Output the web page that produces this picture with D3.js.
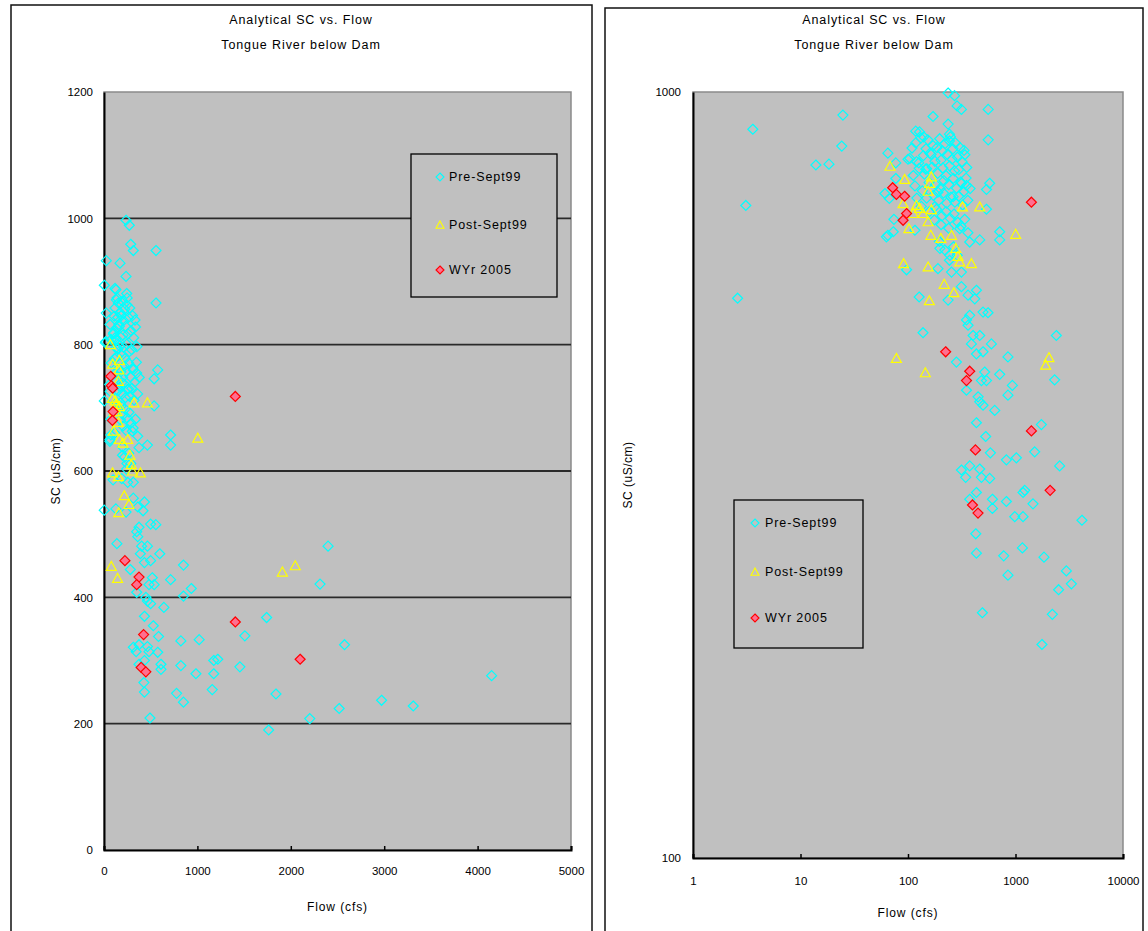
<!DOCTYPE html>
<html><head><meta charset="utf-8">
<script src="https://cdn.jsdelivr.net/npm/d3@7"></script>
<style>
body{margin:0;background:#fff}
text{font-family:"Liberation Sans",Arial,sans-serif;fill:#000}
</style>
</head><body>
<svg id="c" width="1148" height="931"></svg>
<script>
// ---------- data (flow cfs, SC uS/cm) ----------
const seriesNames = ["Pre-Sept99", "Post-Sept99", "WYr 2005"];

const preSept99 = [
  [2.6,538],[3.1,711],[3.6,894],[13.9,803],[18.4,805],[24.2,850],[24.8,933],
  [61,737],[63,647],[65,650],[65,832],[67,726],[73,657],[74,682],[77,771],[77,808],[97,586],
  [100,817],[104,819],[116,660],[116,754],[120,811],[127,540],[128,887],[138,485],[140,874],[146,793],[149,794],[160,832],
  [177,708],[190,588],[190,740],[198,625],[236,535],[245,612],[254,582],[263,730],
  [282,444],[303,663],[314,321],[314,557],[314,582],[337,682],[344,314],[350,408],[350,504],[360,722],[362,496],[362,543],
  [375,294],[375,325],[375,511],[375,637],[389,469],[403,481],[418,537],[427,265],[433,250],[433,300],[433,370],[433,455],[433,551],
  [449,400],[465,322],[465,394],[465,481],[465,641],[482,314],[482,420],[492,209],[499,390],[499,458],[499,516],[517,431],[528,355],
  [537,420],[537,703],[537,746],[555,515],[557,866],[557,949],[575,313],[575,760],[584,338],[597,469],[610,286],[610,294],[641,384],
  [713,428],[713,641],[713,657],[777,248],[823,292],[823,331],[851,234],[851,402],[851,451],[935,414],[984,279],[1019,333],
  [1159,254],[1175,279],[1175,300],[1218,302],[1455,290],[1508,339],[1741,368],[1763,190],[1841,247],[2203,208],[2313,421],
  [2399,481],[2518,224],[2575,325],[2972,237],[3311,228],[4150,276],
  [236,997],[271,989],[286,959],[314,949],[171,929],[236,908],[118,889],[243,881],[243,863],[332,839],
  [314,760],[350,755],[378,748],
  [118,858],[132,871],[147,843],[139,826],[126,808],[153,866],[171,851],[164,829],[186,846],[178,812],[197,869],[209,838],
  [221,856],[203,815],[232,829],[248,874],[262,843],[257,817],[276,858],[289,822],[305,846],[318,811],[296,792],[338,828],
  [352,797],[271,789],[244,801],[226,778],[211,796],[189,783],[168,798],[142,781],[157,762],[181,757],[199,748],[216,766],
  [239,757],[264,771],[283,749],[309,763],[331,741],[347,772],[136,743],[149,727],[172,733],[193,722],[214,738],[229,716],
  [251,729],[273,718],[297,731],[322,712],[184,703],[207,689],[226,698],[247,684],[268,693],[291,676],[312,668],[239,664],
  [203,671],[176,681],[158,698],[133,709],[121,727],[112,778],[127,795],[109,845],[265,628],[287,612],[243,603],[220,622],
  [196,638],[361,655]
];

const postSept99 = [
  [68,800],[93,769],[165,775],[159,760],[154,742],[90,715],[120,711],[128,705],[165,702],[112,694],[138,694],
  [154,677],[102,663],[321,708],[465,708],[163,650],[202,644],[254,650],[278,625],[1004,652],[91,597],[154,591],
  [303,600],[389,597],[292,610],[217,561],[267,547],[158,534],[78,449],[145,430],[2048,450],[1910,440]
];

const wyr2005 = [
  [72,750],[78,735],[93,731],[97,694],[90,680],[1406,718],[224,458],[375,432],[350,420],
  [1406,361],[424,341],[398,289],[448,282],[2100,302]
];

const titleLines = ["Analytical SC vs. Flow", "Tongue River below Dam"];
const xTitle = "Flow (cfs)";
const yTitle = "SC (uS/cm)";
const linXTicks = [0,1000,2000,3000,4000,5000];
const linYTicks = [0,200,400,600,800,1000,1200];
const linGrid = [200,400,600,800,1000];
const logXTicks = [1,10,100,1000,10000];
const logYTicks = [100,1000];

// ---------- drawing ----------
const svg = d3.select("#c");
svg.append("rect").attr("width",1148).attr("height",931).attr("fill","#fff");

const styles = [
  {path:"M0,-5L5,0L0,5L-5,0Z", fill:"none", stroke:"#00FFFF"},
  {path:"M0,-5L5,4L-5,4Z", fill:"none", stroke:"#FFFF00"},
  {path:"M0,-5L5,0L0,5L-5,0Z", fill:"#FF6F8F", stroke:"#FF0000"}
];
const seriesData = [preSept99, postSept99, wyr2005];

function panel(cfg){
  const g = svg.append("g");
  g.append("rect").attr("x",cfg.box[0]).attr("y",cfg.box[1]).attr("width",cfg.box[2]).attr("height",cfg.box[3])
    .attr("fill","#fff").attr("stroke","#111").attr("stroke-width",1.5);
  titleLines.forEach((t,i)=>{
    g.append("text").attr("x",cfg.titleX).attr("y",cfg.titleY + i*25).attr("text-anchor","middle")
      .attr("font-size",12.5).attr("letter-spacing",0.9).text(t);
  });
  const x = cfg.x, y = cfg.y;
  const [x0,x1] = x.range(), [y0,y1] = y.range();
  g.append("rect").attr("x",x0).attr("y",y1).attr("width",x1-x0).attr("height",y0-y1)
    .attr("fill","#C0C0C0").attr("stroke","#8a8a8a").attr("stroke-width",1.5);
  if(cfg.grid){
    g.selectAll(".grid").data(cfg.grid).enter().append("line")
      .attr("x1",x0).attr("x2",x1).attr("y1",d=>y(d)).attr("y2",d=>y(d))
      .attr("stroke","#2a2a2a").attr("stroke-width",1.8);
  }
  const ax = g.append("g").attr("transform",`translate(0,${y0})`)
    .call(d3.axisBottom(x).tickValues(cfg.xTicks).tickFormat(d=>String(d)).tickSize(-4).tickPadding(cfg.xPad));
  const ay = g.append("g").attr("transform",`translate(${x0},0)`)
    .call(d3.axisLeft(y).tickValues(cfg.yTicks).tickFormat(d=>String(d)).tickSize(0).tickPadding(cfg.yPad));
  [ax,ay].forEach(a=>{
    a.select(".domain").attr("stroke","#000").attr("stroke-width",2);
    a.selectAll(".tick line").attr("stroke","#000").attr("stroke-width",1.5);
    a.selectAll("text").attr("font-size",11.5).attr("font-family","'Liberation Sans',Arial,sans-serif").attr("fill","#000");
  });
  g.append("text").attr("x",(x0+x1)/2).attr("y",cfg.xTitleY).attr("text-anchor","middle")
    .attr("font-size",12).attr("letter-spacing",0.9).text(xTitle);
  g.append("text").attr("transform",`translate(${cfg.yTitleX},${(y0+y1)/2}) rotate(-90)`).attr("text-anchor","middle")
    .attr("font-size",12).attr("letter-spacing",0.5).text(yTitle);
  seriesData.forEach((data,si)=>{
    const st = styles[si];
    g.append("g").selectAll("path").data(data).enter().append("path")
      .attr("d",st.path).attr("transform",d=>`translate(${x(d[0])},${y(d[1])})`)
      .attr("fill",st.fill).attr("stroke",st.stroke).attr("stroke-width",1.2);
  });
  const L = cfg.legend;
  g.append("rect").attr("x",L.x).attr("y",L.y).attr("width",L.w).attr("height",L.h)
    .attr("fill","#C0C0C0").attr("stroke","#000").attr("stroke-width",1.3);
  seriesNames.forEach((n,i)=>{
    const yy = L.rows[i];
    const st = styles[i];
    g.append("path").attr("d",st.path).attr("transform",`translate(${L.mx},${yy}) scale(0.8)`)
      .attr("fill",st.fill).attr("stroke",st.stroke).attr("stroke-width",1.4);
    g.append("text").attr("x",L.tx).attr("y",yy).attr("dy","0.35em").attr("font-size",12.5)
      .attr("letter-spacing",0.9).text(n);
  });
}

panel({
  box:[11,5,581,960], titleX:301, titleY:24,
  x: d3.scaleLinear().domain([0,5000]).range([104,571]),
  y: d3.scaleLinear().domain([0,1200]).range([850,92]),
  grid: linGrid, xTicks: linXTicks, yTicks: linYTicks, xPad: 17, yPad: 11,
  xTitleY: 911, yTitleX: 60,
  legend:{x:411,y:154,w:146,h:143,mx:440,tx:449,rows:[177,225,270]}
});

panel({
  box:[605,8,538,960], titleX:874, titleY:24,
  x: d3.scaleLog().domain([1,10000]).range([693,1123]),
  y: d3.scaleLog().domain([100,1000]).range([858,92]),
  grid: null, xTicks: logXTicks, yTicks: logYTicks, xPad: 19, yPad: 12,
  xTitleY: 917, yTitleX: 632,
  legend:{x:734,y:500,w:129,h:148,mx:755,tx:765,rows:[523,572,618]}
});
</script>
</body></html>
